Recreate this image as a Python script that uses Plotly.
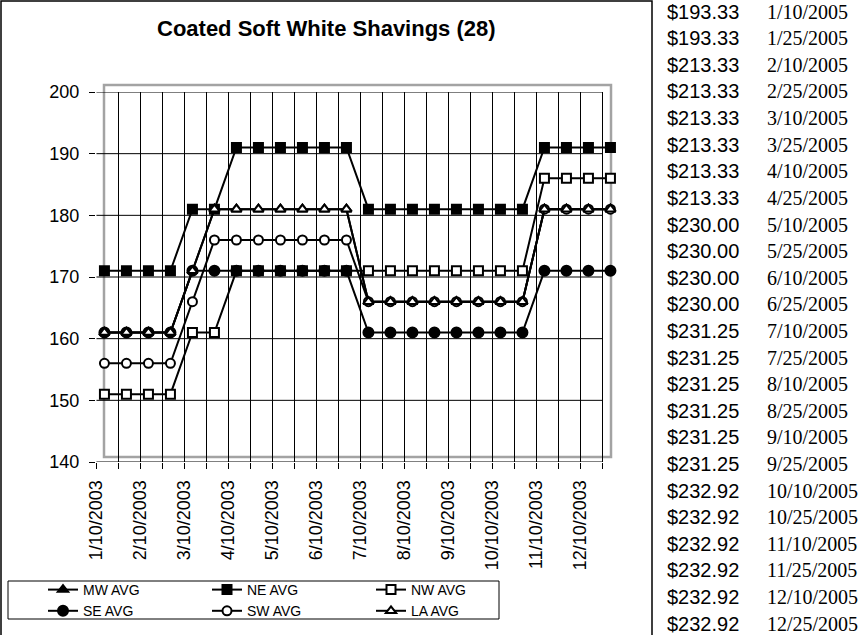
import plotly.graph_objects as go

# ---------------- data ----------------
dates = ["1/10/2003", "1/25/2003", "2/10/2003", "2/25/2003", "3/10/2003", "3/25/2003",
         "4/10/2003", "4/25/2003", "5/10/2003", "5/25/2003", "6/10/2003", "6/25/2003",
         "7/10/2003", "7/25/2003", "8/10/2003", "8/25/2003", "9/10/2003", "9/25/2003",
         "10/10/2003", "10/25/2003", "11/10/2003", "11/25/2003", "12/10/2003", "12/25/2003"]

mw_avg = [161, 161, 161, 161, 171, 181, 181, 181, 181, 181, 181, 181,
          166, 166, 166, 166, 166, 166, 166, 166, 181, 181, 181, 181]
ne_avg = [171, 171, 171, 171, 181, 181, 191, 191, 191, 191, 191, 191,
          181, 181, 181, 181, 181, 181, 181, 181, 191, 191, 191, 191]
nw_avg = [151, 151, 151, 151, 161, 161, 171, 171, 171, 171, 171, 171,
          171, 171, 171, 171, 171, 171, 171, 171, 186, 186, 186, 186]
se_avg = [161, 161, 161, 161, 171, 171, 171, 171, 171, 171, 171, 171,
          161, 161, 161, 161, 161, 161, 161, 161, 171, 171, 171, 171]
sw_avg = [156, 156, 156, 156, 166, 176, 176, 176, 176, 176, 176, 176,
          166, 166, 166, 166, 166, 166, 166, 166, 181, 181, 181, 181]
la_avg = [161, 161, 161, 161, 171, 181, 181, 181, 181, 181, 181, 181,
          166, 166, 166, 166, 166, 166, 166, 166, 181, 181, 181, 181]

y_ticks = [140, 150, 160, 170, 180, 190, 200]

table_prices = ["$193.33", "$193.33", "$213.33", "$213.33", "$213.33", "$213.33",
                "$213.33", "$213.33", "$230.00", "$230.00", "$230.00", "$230.00",
                "$231.25", "$231.25", "$231.25", "$231.25", "$231.25", "$231.25",
                "$232.92", "$232.92", "$232.92", "$232.92", "$232.92", "$232.92"]
table_dates = ["1/10/2005", "1/25/2005", "2/10/2005", "2/25/2005", "3/10/2005", "3/25/2005",
               "4/10/2005", "4/25/2005", "5/10/2005", "5/25/2005", "6/10/2005", "6/25/2005",
               "7/10/2005", "7/25/2005", "8/10/2005", "8/25/2005", "9/10/2005", "9/25/2005",
               "10/10/2005", "10/25/2005", "11/10/2005", "11/25/2005", "12/10/2005", "12/25/2005"]

title_text = "Coated Soft White Shavings (28)"

# ---------------- layout geometry ----------------
W, H = 863, 635
PL, PR, PT, PB = 96, 611, 92, 462          # plot area in pixels
PX_PER_UNIT = 22.0
GRID_SHIFT = 8.0 / PX_PER_UNIT             # gridlines sit 8px left of the points
X0 = -GRID_SHIFT - 0.02
X1 = X0 + (PR - PL) / PX_PER_UNIT


def xp(px):
    return (px - PL) / (PR - PL)


def yp(py):
    return (PB - py) / (PB - PT)


n = len(dates)
xs = list(range(n))
grid_x = [i - GRID_SHIFT for i in range(n)]
tick_text = [d if d.split("/")[1] == "10" else "" for d in dates]

AX_FONT = dict(family="Liberation Sans, Arial, sans-serif", size=18, color="black")

fig = go.Figure()

series = [
    ("MW AVG", mw_avg, "triangle-up", "black", "g1", 9),
    ("NE AVG", ne_avg, "square", "black", "g2", 9),
    ("NW AVG", nw_avg, "square", "white", "g3", 9),
    ("SE AVG", se_avg, "circle", "black", "g1", 10),
    ("SW AVG", sw_avg, "circle", "white", "g2", 9),
    ("LA AVG", la_avg, "triangle-up", "white", "g3", 9),
]
for name, vals, sym, fill, grp, size in series:
    fig.add_trace(go.Scatter(
        x=xs, y=vals, name=name, mode="lines+markers", legendgroup=grp,
        line=dict(color="black", width=2),
        marker=dict(symbol=sym, size=size, color=fill, line=dict(color="black", width=2)),
        cliponaxis=False,
    ))

shapes = []
# outer chart border
shapes.append(dict(type="rect", xref="paper", yref="paper",
                   x0=xp(1), x1=xp(652), y0=yp(1), y1=yp(700),
                   line=dict(color="black", width=1.5), layer="below"))
# grey plot-area frame (offset)
shapes.append(dict(type="rect", xref="paper", yref="paper",
                   x0=xp(104), x1=xp(611), y0=yp(85), y1=yp(457),
                   line=dict(color="#a3a3a3", width=2.5), layer="below"))
# horizontal gridlines (ending at last vertical gridline)
for v in y_ticks:
    shapes.append(dict(type="line", xref="x", yref="y",
                       x0=grid_x[0], x1=grid_x[-1], y0=v, y1=v,
                       line=dict(color="black", width=1), layer="below"))
# legend frame
shapes.append(dict(type="rect", xref="paper", yref="paper",
                   x0=xp(8), x1=xp(499), y0=yp(581), y1=yp(619),
                   line=dict(color="black", width=1), layer="above"))

annotations = []
annotations.append(dict(text="<b>%s</b>" % title_text, xref="paper", yref="paper",
                        x=xp(326), y=yp(29), xanchor="center", yanchor="middle",
                        showarrow=False,
                        font=dict(family="Liberation Sans, Arial, sans-serif", size=22, color="black")))
ROW0, ROWSTEP = 11.7, 26.6
for i, (p, d) in enumerate(zip(table_prices, table_dates)):
    yy = yp(ROW0 + ROWSTEP * i)
    annotations.append(dict(text=p, xref="paper", yref="paper", x=xp(665), y=yy,
                            xanchor="left", yanchor="middle", showarrow=False,
                            font=dict(family="Liberation Sans, Arial, sans-serif", size=20, color="black")))
    annotations.append(dict(text=d, xref="paper", yref="paper", x=xp(765), y=yy,
                            xanchor="left", yanchor="middle", showarrow=False,
                            font=dict(family="Liberation Serif, Times New Roman, serif", size=20, color="black")))

fig.update_layout(
    width=W, height=H,
    margin=dict(l=PL, r=W - PR, t=PT, b=H - PB, pad=0),
    paper_bgcolor="white", plot_bgcolor="white",
    showlegend=True,
    legend=dict(orientation="h", traceorder="grouped",
                xref="container", yref="container",
                x=43 / W, y=1 - 574 / H, xanchor="left", yanchor="top",
                borderwidth=0, bgcolor="rgba(0,0,0,0)",
                entrywidth=119, entrywidthmode="pixels", tracegroupgap=0,
                font=dict(family="Liberation Sans, Arial, sans-serif", size=14, color="black")),
    xaxis=dict(range=[X0, X1], tickmode="array", tickvals=grid_x, ticktext=tick_text,
               tickangle=-90, showgrid=True, gridcolor="black", gridwidth=1,
               ticks="outside", ticklen=6, tickcolor="black", tickwidth=1,
               showline=False, zeroline=False, tickfont=AX_FONT, ticklabelstandoff=4,
               automargin=False),
    yaxis=dict(range=[140, 200], tickmode="array", tickvals=y_ticks,
               showgrid=False, ticks="outside", ticklen=6, tickcolor="black", tickwidth=1,
               showline=False, zeroline=False, tickfont=AX_FONT, ticklabelstandoff=6,
               automargin=False),
    shapes=shapes,
    annotations=annotations,
)

fig.write_html("out.html",
               config={"displayModeBar": False},
               post_script="document.body.style.margin='0';document.body.style.overflow='hidden';")
